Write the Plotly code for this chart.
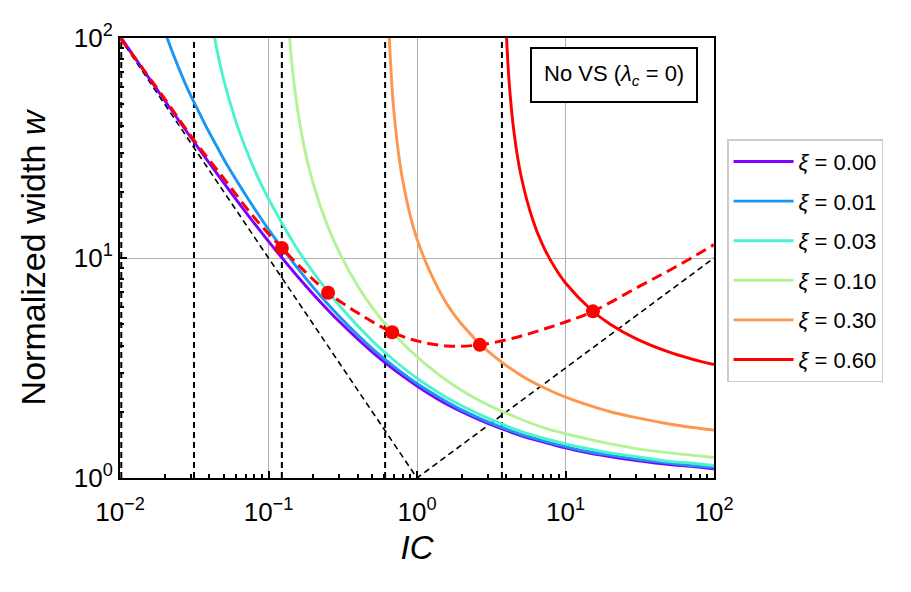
import plotly.graph_objects as go

# values (log-log axes)
ic = [0.01, 0.015, 0.02, 0.03, 0.05, 0.07, 0.1, 0.15, 0.2, 0.3, 0.5, 0.7,
      1, 1.5, 2, 3, 5, 7, 10, 15, 20, 30, 50, 70, 100]
w_xi000 = [102.0, 68.6, 52.0, 35.3, 21.95, 16.2, 11.9, 8.55, 6.85, 5.14, 3.73, 3.11,
           2.62, 2.21, 2.0, 1.77, 1.56, 1.46, 1.37, 1.29, 1.25, 1.2, 1.15, 1.13, 1.1]

ic_xi001 = [0.012, 0.015, 0.02, 0.025, 0.03, 0.05, 0.07, 0.1, 0.15, 0.2, 0.3, 0.5, 0.7,
            1, 1.5, 2, 3, 5, 7, 10, 15, 20, 30, 50, 70, 100]
w_xi001 = [580, 219, 108, 72.4, 54.6, 28.1, 19.4, 13.5, 9.35, 7.35, 5.42, 3.87, 3.21,
           2.69, 2.27, 2.04, 1.8, 1.58, 1.48, 1.39, 1.31, 1.27, 1.22, 1.17, 1.14, 1.12]

ic_xi003 = [0.035, 0.04, 0.045, 0.05, 0.06, 0.07, 0.085, 0.1, 0.15, 0.2, 0.3, 0.5, 0.7,
            1, 1.5, 2, 3, 5, 7, 10, 15, 20, 30, 50, 70, 100]
w_xi003 = [364, 141, 88.1, 64.3, 42.1, 31.6, 23.2, 18.6, 11.5, 8.62, 6.08, 4.2, 3.43,
           2.84, 2.37, 2.13, 1.87, 1.63, 1.52, 1.43, 1.35, 1.3, 1.25, 1.19, 1.17, 1.14]

ic_xi010 = [0.13, 0.14, 0.15, 0.17, 0.2, 0.25, 0.3, 0.4, 0.5, 0.7,
            1, 1.5, 2, 3, 5, 7, 10, 15, 20, 30, 50, 70, 100]
w_xi010 = [233, 93.3, 59.0, 34.5, 21.8, 14.0, 10.6, 7.44, 5.95, 4.51,
           3.55, 2.85, 2.5, 2.15, 1.85, 1.7, 1.59, 1.49, 1.43, 1.36, 1.3, 1.27, 1.24]

ic_xi030 = [0.63, 0.65, 0.7, 0.8, 1, 1.5, 2, 3, 5, 7, 10, 15, 20, 30, 50, 70, 100]
w_xi030 = [217, 103, 45.8, 22.7, 12.2, 6.6, 5.0, 3.77, 2.93, 2.59, 2.33, 2.12, 2.0,
           1.88, 1.76, 1.7, 1.65]

ic_xi060 = [3.8, 3.9, 4.0, 4.2, 4.5, 5, 6, 7, 8.5, 10, 15, 20, 30, 50, 70, 100]
w_xi060 = [506, 171, 104, 59.6, 37.3, 23.9, 15.0, 11.5, 9.02, 7.7, 5.79, 5.0, 4.29,
           3.73, 3.48, 3.28]

xi_labels = ["0.00", "0.01", "0.03", "0.10", "0.30", "0.60"]
colors = ["#8000ff", "#1a96f3", "#4df3ce", "#b3f396", "#ff964f", "#ff0000"]

# optimum locus and optimum points
ic_opt = [0.01, 0.02, 0.0315, 0.05, 0.08, 0.123, 0.18, 0.252, 0.4, 0.68, 1.0, 1.6,
          2.65, 4.5, 7, 10, 15.3, 31.6, 55, 100]
w_opt = [100, 53, 34.3, 23.0, 15.3, 11.1, 8.55, 6.95, 5.62, 4.6, 4.2, 3.98,
         4.03, 4.33, 4.73, 5.12, 5.72, 7.45, 9.1, 11.5]
ic_dots = [0.123, 0.252, 0.68, 2.65, 15.3]
w_dots = [11.1, 6.95, 4.6, 4.03, 5.72]

# asymptotes / limits
ic_vlines = [0.0102, 0.0315, 0.123, 0.61, 3.73]
ic_limit = [0.01, 1, 100]
w_limit = [100, 1, 10]

decades = [-2, -1, 0, 1, 2]
tick_text = ["10<sup>%s</sup>" % ("−%d" % -d if d < 0 else "%d" % d) for d in decades]
minor_vals = [m * 10.0 ** d for d in decades[:-1] for m in range(2, 10)]

fig = go.Figure()

series = [(ic, w_xi000), (ic_xi001, w_xi001), (ic_xi003, w_xi003),
          (ic_xi010, w_xi010), (ic_xi030, w_xi030), (ic_xi060, w_xi060)]

for v in ic_vlines:
    fig.add_trace(go.Scatter(x=[v, v], y=[1, 100], mode="lines",
                             line=dict(color="black", width=2, dash="6px,4px"),
                             showlegend=False, hoverinfo="skip"))

fig.add_trace(go.Scatter(x=ic_limit, y=w_limit, mode="lines",
                         line=dict(color="black", width=1.6, dash="6px,4px"),
                         showlegend=False, hoverinfo="skip"))

for (xs, ys), lab, col in zip(series, xi_labels, colors):
    fig.add_trace(go.Scatter(x=xs, y=ys, mode="lines", name="<i>ξ</i> = " + lab,
                             legendgroup=lab,
                             line=dict(color=col, width=2.9, shape="spline")))

fig.add_trace(go.Scatter(x=ic_opt, y=w_opt, mode="lines",
                         line=dict(color="#ff0000", width=3, dash="11px,6px", shape="spline"),
                         showlegend=False))
fig.add_trace(go.Scatter(x=ic_dots, y=w_dots, mode="markers",
                         marker=dict(color="#ff0000", size=14),
                         showlegend=False))

fig.add_annotation(x=0.973, y=0.98, xref="paper", yref="paper",
                   xanchor="right", yanchor="top", showarrow=False,
                   text="No VS (<i>λ<sub>c</sub></i> = 0)",
                   font=dict(size=22, color="black"),
                   bordercolor="black", borderwidth=2, borderpad=12,
                   bgcolor="white")

axis_style = dict(type="log", tickvals=[10.0 ** d for d in decades], ticktext=tick_text,
                  showline=True, linecolor="black", linewidth=2, mirror=True,
                  ticks="inside", ticklen=7, tickwidth=1.5, tickcolor="black",
                  showgrid=True, gridcolor="#b0b0b0", gridwidth=1.3,
                  minor=dict(tickvals=minor_vals, ticks="inside", ticklen=4,
                             tickcolor="black", showgrid=False),
                  tickfont=dict(size=26, color="black"), zeroline=False)

fig.update_xaxes(range=[-2, 2], title=dict(text="<i>IC</i>", font=dict(size=33), standoff=10),
                 ticklabelstandoff=10, **axis_style)
fig.update_yaxes(range=[0, 2], title=dict(text="Normalized width <i>w</i>", font=dict(size=34),
                                          standoff=18),
                 **axis_style)

fig.update_layout(
    width=911, height=592,
    margin=dict(l=112, r=205, t=27, b=122),
    plot_bgcolor="white", paper_bgcolor="white",
    font=dict(family="Liberation Sans, Arial", color="black"),
    legend=dict(x=1.022, y=0.77, xanchor="left", yanchor="top",
                bordercolor="#cccccc", borderwidth=1.5, font=dict(size=22),
                tracegroupgap=8, itemwidth=60, bgcolor="white"),
)

fig.write_html("out.html")
